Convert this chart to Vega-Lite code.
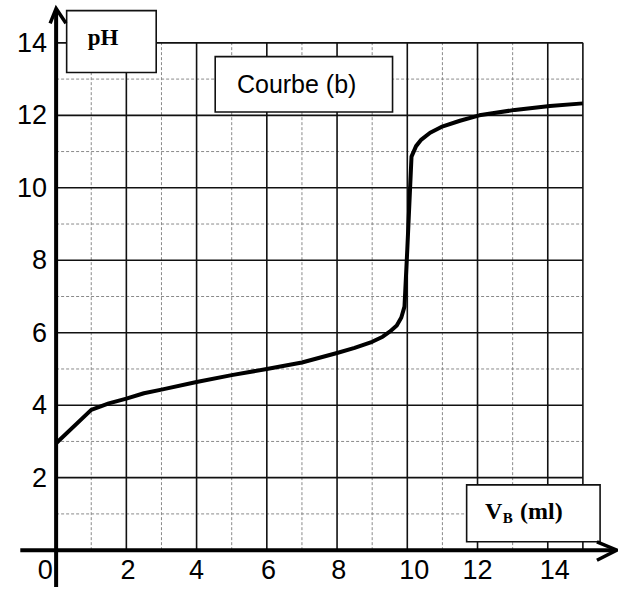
{
  "$schema": "https://vega.github.io/schema/vega-lite/v6.json",
  "width": 597,
  "height": 587,
  "autosize": {"type": "none"},
  "padding": {"left": 21, "top": 3, "right": 0, "bottom": 0},
  "background": "white",
  "config": {"view": {"stroke": null}},
  "datasets": {
    "curve": [
      {"v": 0, "ph": 2.95}, {"v": 1.0, "ph": 3.87}, {"v": 1.5, "ph": 4.05}, {"v": 2.0, "ph": 4.18},
      {"v": 2.5, "ph": 4.33}, {"v": 3.0, "ph": 4.43}, {"v": 4.0, "ph": 4.64}, {"v": 5.0, "ph": 4.83},
      {"v": 6.0, "ph": 5.0}, {"v": 7.0, "ph": 5.18}, {"v": 8.0, "ph": 5.44}, {"v": 8.5, "ph": 5.58},
      {"v": 9.0, "ph": 5.75}, {"v": 9.3, "ph": 5.89}, {"v": 9.5, "ph": 6.03}, {"v": 9.7, "ph": 6.2},
      {"v": 9.83, "ph": 6.42}, {"v": 9.92, "ph": 6.72}, {"v": 10.0, "ph": 8.3}, {"v": 10.12, "ph": 10.86},
      {"v": 10.25, "ph": 11.15}, {"v": 10.4, "ph": 11.33}, {"v": 10.65, "ph": 11.52}, {"v": 10.97, "ph": 11.68},
      {"v": 11.5, "ph": 11.85}, {"v": 12.05, "ph": 12.0}, {"v": 13.06, "ph": 12.15}, {"v": 14.06, "ph": 12.26},
      {"v": 15.0, "ph": 12.33}
    ],
    "grid": [
      {"x1": 1, "y1": 0, "x2": 1, "y2": 14, "kind": "minor"},
      {"x1": 3, "y1": 0, "x2": 3, "y2": 14, "kind": "minor"},
      {"x1": 5, "y1": 0, "x2": 5, "y2": 14, "kind": "minor"},
      {"x1": 7, "y1": 0, "x2": 7, "y2": 14, "kind": "minor"},
      {"x1": 9, "y1": 0, "x2": 9, "y2": 14, "kind": "minor"},
      {"x1": 11, "y1": 0, "x2": 11, "y2": 14, "kind": "minor"},
      {"x1": 13, "y1": 0, "x2": 13, "y2": 14, "kind": "minor"},
      {"x1": 2, "y1": 0, "x2": 2, "y2": 14, "kind": "major"},
      {"x1": 4, "y1": 0, "x2": 4, "y2": 14, "kind": "major"},
      {"x1": 6, "y1": 0, "x2": 6, "y2": 14, "kind": "major"},
      {"x1": 8, "y1": 0, "x2": 8, "y2": 14, "kind": "major"},
      {"x1": 10, "y1": 0, "x2": 10, "y2": 14, "kind": "major"},
      {"x1": 12, "y1": 0, "x2": 12, "y2": 14, "kind": "major"},
      {"x1": 14, "y1": 0, "x2": 14, "y2": 14, "kind": "major"},
      {"x1": 15, "y1": 0, "x2": 15, "y2": 14, "kind": "major"},
      {"x1": 0, "y1": 1, "x2": 15, "y2": 1, "kind": "minor"},
      {"x1": 0, "y1": 3, "x2": 15, "y2": 3, "kind": "minor"},
      {"x1": 0, "y1": 5, "x2": 15, "y2": 5, "kind": "minor"},
      {"x1": 0, "y1": 7, "x2": 15, "y2": 7, "kind": "minor"},
      {"x1": 0, "y1": 9, "x2": 15, "y2": 9, "kind": "minor"},
      {"x1": 0, "y1": 11, "x2": 15, "y2": 11, "kind": "minor"},
      {"x1": 0, "y1": 13, "x2": 15, "y2": 13, "kind": "minor"},
      {"x1": 0, "y1": 2, "x2": 15, "y2": 2, "kind": "major"},
      {"x1": 0, "y1": 4, "x2": 15, "y2": 4, "kind": "major"},
      {"x1": 0, "y1": 6, "x2": 15, "y2": 6, "kind": "major"},
      {"x1": 0, "y1": 8, "x2": 15, "y2": 8, "kind": "major"},
      {"x1": 0, "y1": 10, "x2": 15, "y2": 10, "kind": "major"},
      {"x1": 0, "y1": 12, "x2": 15, "y2": 12, "kind": "major"},
      {"x1": 0, "y1": 14, "x2": 15, "y2": 14, "kind": "major"}
    ],
    "axes": [
      {"x1": -1.02, "y1": 0, "x2": 15.9, "y2": 0},
      {"x1": 0, "y1": -1.02, "x2": 0, "y2": 14.9}
    ],
    "arrows": [
      {"id": "x", "o": 1, "x": 15.4, "y": 0.23},
      {"id": "x", "o": 2, "x": 15.97, "y": 0},
      {"id": "x", "o": 3, "x": 15.4, "y": -0.28},
      {"id": "y", "o": 1, "x": -0.17, "y": 14.54},
      {"id": "y", "o": 2, "x": 0, "y": 14.95},
      {"id": "y", "o": 3, "x": 0.28, "y": 14.54}
    ],
    "boxes": [
      {"x1": 0.3, "x2": 2.85, "y1": 13.18, "y2": 14.89},
      {"x1": 4.53, "x2": 9.58, "y1": 12.09, "y2": 13.62},
      {"x1": 11.69, "x2": 15.49, "y1": 0.23, "y2": 1.8}
    ],
    "xlabels": [
      {"t": "0", "x": -0.31}, {"t": "2", "x": 2.05}, {"t": "4", "x": 4.0}, {"t": "6", "x": 6.05},
      {"t": "8", "x": 8.05}, {"t": "10", "x": 10.2}, {"t": "12", "x": 12.0}, {"t": "14", "x": 14.2}
    ],
    "ylabels": [
      {"t": "2", "y": 2}, {"t": "4", "y": 4}, {"t": "6", "y": 6}, {"t": "8", "y": 8},
      {"t": "10", "y": 10}, {"t": "12", "y": 12}, {"t": "14", "y": 14}
    ]
  },
  "layer": [
    {
      "data": {"name": "grid"},
      "transform": [{"filter": "datum.kind === 'minor'"}],
      "mark": {"type": "rule", "color": "#8a8a8a", "strokeWidth": 1, "strokeDash": [3, 2]},
      "encoding": {
        "x": {"field": "x1", "type": "quantitative", "scale": {"domain": [-1, 16], "nice": false, "zero": false}, "axis": null},
        "y": {"field": "y1", "type": "quantitative", "scale": {"domain": [-1.1, 15.1], "nice": false, "zero": false}, "axis": null},
        "x2": {"field": "x2"},
        "y2": {"field": "y2"}
      }
    },
    {
      "data": {"name": "grid"},
      "transform": [{"filter": "datum.kind === 'major'"}],
      "mark": {"type": "rule", "color": "#111111", "strokeWidth": 1.6},
      "encoding": {
        "x": {"field": "x1", "type": "quantitative", "axis": null},
        "y": {"field": "y1", "type": "quantitative", "axis": null},
        "x2": {"field": "x2"},
        "y2": {"field": "y2"}
      }
    },
    {
      "data": {"name": "boxes"},
      "mark": {"type": "rect", "fill": "white", "stroke": "#111111", "strokeWidth": 1.6},
      "encoding": {
        "x": {"field": "x1", "type": "quantitative", "axis": null},
        "x2": {"field": "x2"},
        "y": {"field": "y1", "type": "quantitative", "axis": null},
        "y2": {"field": "y2"}
      }
    },
    {
      "data": {"values": [{"t": "pH", "x": 1.34, "y": 14.14}]},
      "mark": {"type": "text", "font": "Liberation Serif", "fontWeight": "bold", "fontSize": 23, "align": "center", "baseline": "middle", "color": "black"},
      "encoding": {
        "x": {"field": "x", "type": "quantitative", "axis": null},
        "y": {"field": "y", "type": "quantitative", "axis": null},
        "text": {"field": "t"}
      }
    },
    {
      "data": {"values": [{"t": "Courbe (b)", "x": 6.85, "y": 12.84}]},
      "mark": {"type": "text", "font": "Liberation Sans", "fontSize": 25, "align": "center", "baseline": "middle", "color": "black"},
      "encoding": {
        "x": {"field": "x", "type": "quantitative", "axis": null},
        "y": {"field": "y", "type": "quantitative", "axis": null},
        "text": {"field": "t"}
      }
    },
    {
      "data": {"values": [{"t": "V", "x": 12.21, "y": 0.86}, {"t": "(ml)", "x": 13.21, "y": 0.86}]},
      "mark": {"type": "text", "font": "Liberation Serif", "fontWeight": "bold", "fontSize": 24, "align": "left", "baseline": "alphabetic", "color": "black"},
      "encoding": {
        "x": {"field": "x", "type": "quantitative", "axis": null},
        "y": {"field": "y", "type": "quantitative", "axis": null},
        "text": {"field": "t"}
      }
    },
    {
      "data": {"values": [{"t": "B", "x": 12.72, "y": 0.75}]},
      "mark": {"type": "text", "font": "Liberation Serif", "fontWeight": "bold", "fontSize": 15, "align": "left", "baseline": "alphabetic", "color": "black"},
      "encoding": {
        "x": {"field": "x", "type": "quantitative", "axis": null},
        "y": {"field": "y", "type": "quantitative", "axis": null},
        "text": {"field": "t"}
      }
    },
    {
      "data": {"name": "xlabels"},
      "mark": {"type": "text", "font": "Liberation Sans", "fontSize": 27, "align": "center", "baseline": "middle", "color": "black"},
      "encoding": {
        "x": {"field": "x", "type": "quantitative", "axis": null},
        "y": {"datum": -0.58, "type": "quantitative", "axis": null},
        "text": {"field": "t"}
      }
    },
    {
      "data": {"name": "ylabels"},
      "mark": {"type": "text", "font": "Liberation Sans", "fontSize": 27, "align": "right", "baseline": "middle", "color": "black", "dy": 1},
      "encoding": {
        "x": {"datum": -0.26, "type": "quantitative", "axis": null},
        "y": {"field": "y", "type": "quantitative", "axis": null},
        "text": {"field": "t"}
      }
    },
    {
      "data": {"name": "curve"},
      "mark": {"type": "line", "color": "black", "strokeWidth": 4, "strokeJoin": "round", "strokeCap": "butt"},
      "encoding": {
        "x": {"field": "v", "type": "quantitative", "axis": null},
        "y": {"field": "ph", "type": "quantitative", "axis": null}
      }
    },
    {
      "data": {"name": "axes"},
      "mark": {"type": "rule", "color": "black", "strokeWidth": 4},
      "encoding": {
        "x": {"field": "x1", "type": "quantitative", "axis": null},
        "y": {"field": "y1", "type": "quantitative", "axis": null},
        "x2": {"field": "x2"},
        "y2": {"field": "y2"}
      }
    },
    {
      "data": {"name": "arrows"},
      "mark": {"type": "line", "color": "black", "strokeWidth": 3.5, "strokeJoin": "miter", "strokeCap": "butt"},
      "encoding": {
        "x": {"field": "x", "type": "quantitative", "axis": null},
        "y": {"field": "y", "type": "quantitative", "axis": null},
        "detail": {"field": "id"},
        "order": {"field": "o"}
      }
    }
  ]
}
